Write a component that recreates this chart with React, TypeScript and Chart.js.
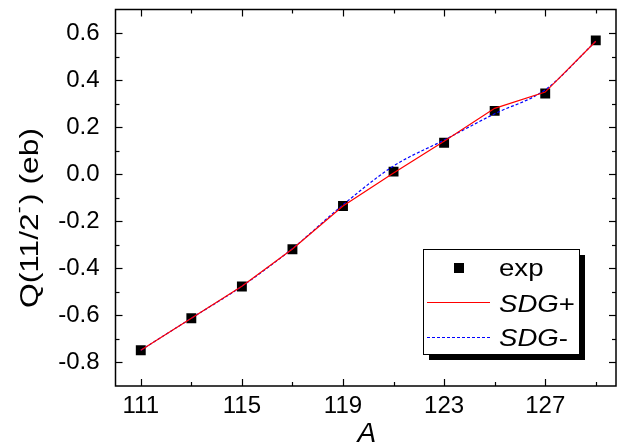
import React, { useEffect, useRef } from "react";
import { Chart, registerables } from "chart.js";

Chart.register(...registerables);

// ---- data ----
const massNumbers = [111, 113, 115, 117, 119, 121, 123, 125, 127, 129];
const expValues = [-0.748, -0.612, -0.477, -0.319, -0.135, 0.011, 0.134, 0.269, 0.343, 0.569];
const sdgPlusValues = [-0.748, -0.612, -0.476, -0.318, -0.135, 0.005, 0.14, 0.28, 0.349, 0.565];
const sdgMinusValues = [-0.748, -0.612, -0.476, -0.316, -0.13, 0.035, 0.145, 0.257, 0.359, 0.565];
const xMajorTicks = [111, 115, 119, 123, 127];
const xMinorTicks = [113, 117, 121, 125, 129];
const yMajorTicks = [-0.8, -0.6, -0.4, -0.2, 0, 0.2, 0.4, 0.6];
const yMinorTicks = [-0.7, -0.5, -0.3, -0.1, 0.1, 0.3, 0.5];
const legendLabels = ["exp", "SDG", "SDG"];
const legendSuffixes = ["", "+", "-"];

const FONT = '"Liberation Sans", Arial, sans-serif';

const toPoints = (ys: number[]) => massNumbers.map((x, i) => ({ x, y: ys[i] }));

const zeroPad = (s: any) => {
  s.paddingTop = 0;
  s.paddingBottom = 0;
  s.paddingLeft = 0;
  s.paddingRight = 0;
};

const framePlugin = {
  id: "frameAndExtras",
  afterDraw(chart: any) {
    const { ctx, chartArea: a, scales } = chart;
    const xs = scales.x;
    const ys = scales.y;
    ctx.save();
    ctx.strokeStyle = "#000";
    ctx.lineWidth = 1.5;
    ctx.strokeRect(a.left, a.top, a.right - a.left, a.bottom - a.top);
    ctx.lineWidth = 1.2;
    const seg = (x1: number, y1: number, x2: number, y2: number) => {
      ctx.beginPath();
      ctx.moveTo(x1, y1);
      ctx.lineTo(x2, y2);
      ctx.stroke();
    };
    const MAJ = 7, MIN = 4;
    xMajorTicks.forEach((v) => {
      const p = Math.round(xs.getPixelForValue(v)) + 0.5;
      seg(p, a.bottom, p, a.bottom - MAJ);
      seg(p, a.top, p, a.top + MAJ);
    });
    xMinorTicks.forEach((v) => {
      const p = Math.round(xs.getPixelForValue(v)) + 0.5;
      seg(p, a.bottom, p, a.bottom - MIN);
      seg(p, a.top, p, a.top + MIN);
    });
    yMajorTicks.forEach((v) => {
      const p = Math.round(ys.getPixelForValue(v)) + 0.5;
      seg(a.left, p, a.left + MAJ, p);
      seg(a.right, p, a.right - MAJ, p);
    });
    yMinorTicks.forEach((v) => {
      const p = Math.round(ys.getPixelForValue(v)) + 0.5;
      seg(a.left, p, a.left + MIN, p);
      seg(a.right, p, a.right - MIN, p);
    });

    // x title
    ctx.fillStyle = "#000";
    ctx.font = `italic 28px ${FONT}`;
    ctx.textAlign = "center";
    ctx.textBaseline = "alphabetic";
    ctx.fillText("A", (a.left + a.right) / 2 + 1, 442);

    // y title
    ctx.save();
    ctx.translate(38, 308);
    ctx.rotate(-Math.PI / 2);
    ctx.textAlign = "left";
    const big = `26px ${FONT}`;
    const small = `17px ${FONT}`;
    const p1 = "Q(11/2";
    const sup = "-";
    const p2 = ") (eb)";
    ctx.font = big;
    const w1 = ctx.measureText(p1).width;
    const w2 = ctx.measureText(p2).width;
    ctx.font = small;
    const ws = ctx.measureText(sup).width + 2;
    const total = w1 + ws + w2;
    ctx.scale(180 / total, 1);
    ctx.font = big;
    ctx.fillText(p1, 0, 0);
    ctx.font = small;
    ctx.fillText(sup, w1, -14);
    ctx.font = big;
    ctx.fillText(p2, w1 + ws, 0);
    ctx.restore();

    // legend
    const bx = 423, by = 249, bw = 156, bh = 105;
    ctx.fillStyle = "#000";
    ctx.fillRect(bx + 6, by + 6, bw, bh);
    ctx.fillStyle = "#fff";
    ctx.fillRect(bx, by, bw, bh);
    ctx.lineWidth = 1;
    ctx.strokeStyle = "#000";
    ctx.strokeRect(bx + 0.5, by + 0.5, bw, bh);

    const rows = [268, 302.5, 337.5];
    const baselines = [276, 311.5, 346];
    ctx.fillStyle = "#000";
    ctx.fillRect(454, rows[0] - 5, 10, 10);
    ctx.strokeStyle = "#ff0000";
    ctx.lineWidth = 1.2;
    seg(427, rows[1], 490, rows[1]);
    ctx.strokeStyle = "#0000ff";
    ctx.lineWidth = 1.2;
    ctx.setLineDash([3, 2]);
    seg(427, rows[2], 490, rows[2]);
    ctx.setLineDash([]);

    ctx.fillStyle = "#000";
    ctx.textAlign = "left";
    const sx = 1.15;
    legendLabels.forEach((lab, i) => {
      const x0 = 499;
      ctx.save();
      ctx.translate(x0, baselines[i]);
      ctx.scale(sx, 1);
      if (i === 0) {
        ctx.font = `24px ${FONT}`;
        ctx.fillText(lab, 0, 0);
      } else {
        ctx.font = `italic 24px ${FONT}`;
        ctx.fillText(lab, 0, 0);
        const w = ctx.measureText(lab).width;
        ctx.font = `24px ${FONT}`;
        ctx.fillText(legendSuffixes[i], w, 0);
      }
      ctx.restore();
    });
    ctx.restore();
  },
};

export default function App() {
  const ref = useRef<HTMLCanvasElement | null>(null);
  useEffect(() => {
    if (!ref.current) return;
    const chart = new Chart(ref.current, {
      type: "line",
      data: {
        datasets: [
          {
            label: "SDG+",
            data: toPoints(sdgPlusValues),
            borderColor: "#ff0000",
            borderWidth: 1.2,
            pointRadius: 0,
            tension: 0,
            fill: false,
            order: 1,
          },
          {
            label: "SDG-",
            data: toPoints(sdgMinusValues),
            borderColor: "#0000ff",
            borderWidth: 1.2,
            borderDash: [3, 2],
            pointRadius: 0,
            cubicInterpolationMode: "monotone",
            fill: false,
            order: 2,
          },
          {
            label: "exp",
            data: toPoints(expValues),
            showLine: false,
            pointStyle: "rect",
            pointRadius: 7,
            pointBorderWidth: 0,
            pointBackgroundColor: "#000",
            pointBorderColor: "#000",
            order: 3,
          },
        ],
      },
      options: {
        animation: false,
        responsive: false,
        maintainAspectRatio: false,
        layout: { autoPadding: false, padding: { left: 0, top: 9.5, right: 9, bottom: 0 } },
        plugins: { legend: { display: false }, tooltip: { enabled: false } },
        scales: {
          x: {
            type: "linear",
            min: 110,
            max: 129.8,
            grid: { display: false },
            border: { display: false },
            afterBuildTicks: (s: any) => {
              s.ticks = xMajorTicks.map((v) => ({ value: v }));
            },
            afterFit: (s: any) => {
              s.height = 59;
              zeroPad(s);
            },
            ticks: {
              autoSkip: false,
              maxRotation: 0,
              color: "#000",
              padding: -2,
              font: { family: FONT, size: 24 },
              callback: (v: any) => String(v),
            },
          },
          y: {
            type: "linear",
            min: -0.9,
            max: 0.7,
            grid: { display: false },
            border: { display: false },
            afterBuildTicks: (s: any) => {
              s.ticks = yMajorTicks.map((v) => ({ value: v }));
            },
            afterFit: (s: any) => {
              s.width = 115.5;
              zeroPad(s);
            },
            ticks: {
              autoSkip: false,
              color: "#000",
              padding: 8,
              font: { family: FONT, size: 24 },
              callback: (v: any) => Number(v).toFixed(1),
            },
          },
        },
      },
      plugins: [framePlugin],
    });
    return () => chart.destroy();
  }, []);
  return (
    <div style={{ position: "absolute", left: 0, top: 0, width: 625, height: 445, background: "#fff" }}>
      <canvas ref={ref} width={625} height={445} style={{ display: "block", width: 625, height: 445 }} />
    </div>
  );
}
